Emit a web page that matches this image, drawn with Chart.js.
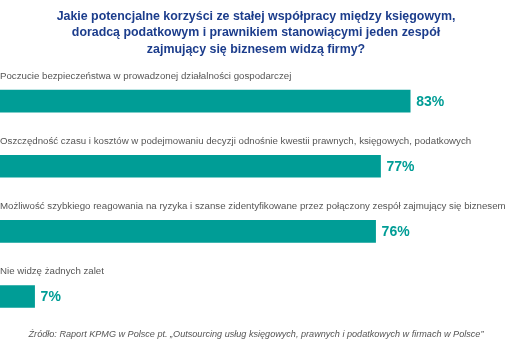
<!DOCTYPE html>
<html>
<head>
<meta charset="utf-8">
<script src="https://cdn.jsdelivr.net/npm/chart.js@4.4.0/dist/chart.umd.min.js"></script>
<style>
  html, body { margin: 0; padding: 0; background: #fff; }
  #wrap { width: 512px; height: 349px; }
</style>
</head>
<body>
<div id="wrap"><canvas id="chart"></canvas></div>
<script>
  // Data
  var categories = [
    'Poczucie bezpieczeństwa w prowadzonej działalności gospodarczej',
    'Oszczędność czasu i kosztów w podejmowaniu decyzji odnośnie kwestii prawnych, księgowych, podatkowych',
    'Możliwość szybkiego reagowania na ryzyka i szanse zidentyfikowane przez połączony zespół zajmujący się biznesem',
    'Nie widzę żadnych zalet'
  ];
  var values = [83, 77, 76, 7];
  var titleLines = [
    'Jakie potencjalne korzyści ze stałej współpracy między księgowym,',
    'doradcą podatkowym i prawnikiem stanowiącymi jeden zespół',
    'zajmujący się biznesem widzą firmy?'
  ];
  var sourceText = 'Źródło: Raport KPMG w Polsce pt. „Outsourcing usług księgowych, prawnych i podatkowych w firmach w Polsce”';

  var teal = '#009d96';

  // category text above each bar + value at the bar end
  var barLabels = {
    id: 'barLabels',
    afterDatasetsDraw: function (chart) {
      var ctx = chart.ctx;
      var meta = chart.getDatasetMeta(0);
      var yScale = chart.scales.y;
      ctx.save();
      ctx.textBaseline = 'middle';
      meta.data.forEach(function (bar, i) {
        var yc = yScale.getPixelForValue(i);
        ctx.font = '9.7px "Liberation Sans", Arial, sans-serif';
        ctx.fillStyle = '#555';
        ctx.textAlign = 'left';
        ctx.fillText(categories[i], 0, yc - 25);
        ctx.font = 'bold 14px "Liberation Sans", Arial, sans-serif';
        ctx.fillStyle = teal;
        ctx.fillText(values[i] + '%', bar.x + 6, yc + 1);
      });
      ctx.restore();
    }
  };

  var ctx = document.getElementById('chart').getContext('2d');
  var chart = new Chart(ctx, {
    type: 'bar',
    data: {
      labels: categories,
      datasets: [{
        data: values,
        backgroundColor: teal,
        barThickness: 22
      }]
    },
    options: {
      indexAxis: 'y',
      responsive: true,
      maintainAspectRatio: false,
      animation: false,
      layout: { padding: 0 },
      scales: {
        x: { display: false, min: 0, max: 103.6 },
        y: { display: false }
      },
      plugins: {
        legend: { display: false },
        tooltip: { enabled: false },
        title: {
          display: true,
          text: titleLines,
          color: '#1c3d8c',
          font: { family: '"Liberation Sans", Arial, sans-serif', size: 12.4, weight: 'bold', lineHeight: 16.5 / 12.4 },
          padding: { top: 8, bottom: 11 }
        },
        subtitle: {
          display: true,
          position: 'bottom',
          text: sourceText,
          color: '#555',
          font: { family: '"Liberation Sans", Arial, sans-serif', size: 9.1, style: 'italic' },
          padding: { top: 0, bottom: 9 }
        }
      }
    },
    plugins: [barLabels]
  });
</script>
</body>
</html>
